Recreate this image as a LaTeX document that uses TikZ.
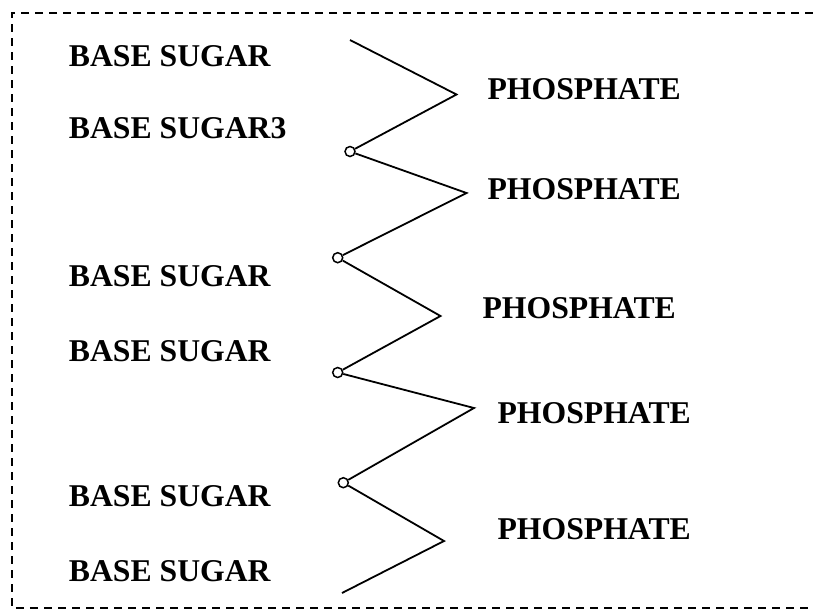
\documentclass[tikz,border=0pt]{standalone}
\usepackage{fontspec}
\setmainfont{Liberation Serif}
\usepackage{tikz}
\usetikzlibrary{positioning}

\tikzset{
    label/.style={anchor=base west, inner sep=0pt, font=\fontsize{31.7}{36}\selectfont\bfseries},
    joint/.style={circle, draw, line width=1.5pt, fill=white, inner sep=0pt, minimum size=10pt}
}

\begin{document}
\begin{tikzpicture}[x=1pt, y=-1pt, line width=1.8pt]
        \useasboundingbox (0, 0) rectangle (813, 611);
        \draw[line width=2.2pt, dash pattern=on 8pt off 6pt] (813, 13) -- (12, 13) -- (12, 608) -- (813, 608);
        \node[label] (sugar1) at (68, 66.7) {BASE SUGAR};
        \node[label] (sugar2) at (68, 138.3) {BASE SUGAR3};
        \node[label] (sugar3) at (68, 286.7) {BASE SUGAR};
        \node[label] (sugar4) at (68, 361.7) {BASE SUGAR};
        \node[label] (sugar5) at (68, 506.7) {BASE SUGAR};
        \node[label] (sugar6) at (68, 581.7) {BASE SUGAR};
        \node[label] (phos1) at (486.7, 99.3) {PHOSPHATE};
        \node[label] (phos2) at (486.7, 199.3) {PHOSPHATE};
        \node[label] (phos3) at (481.7, 318.3) {PHOSPHATE};
        \node[label] (phos4) at (496.7, 423.3) {PHOSPHATE};
        \node[label] (phos5) at (496.7, 539.3) {PHOSPHATE};
        \coordinate (top) at (350, 40);
        \coordinate (r1) at (456.5, 94.5);
        \coordinate (r2) at (466.5, 193);
        \coordinate (r3) at (440.5, 316);
        \coordinate (r4) at (474, 408);
        \coordinate (r5) at (444, 541);
        \coordinate (bottom) at (342, 593);
        \node[joint] (j1) at (350, 151.5) {};
        \node[joint] (j2) at (337.7, 257.7) {};
        \node[joint] (j3) at (337.7, 372.5) {};
        \node[joint] (j4) at (343.3, 482.7) {};
        \draw (top) -- (r1) -- (j1);
        \draw (j1) -- (r2) -- (j2);
        \draw (j2) -- (r3) -- (j3);
        \draw (j3) -- (r4) -- (j4);
        \draw (j4) -- (r5) -- (bottom);
    \end{tikzpicture}
\end{document}
